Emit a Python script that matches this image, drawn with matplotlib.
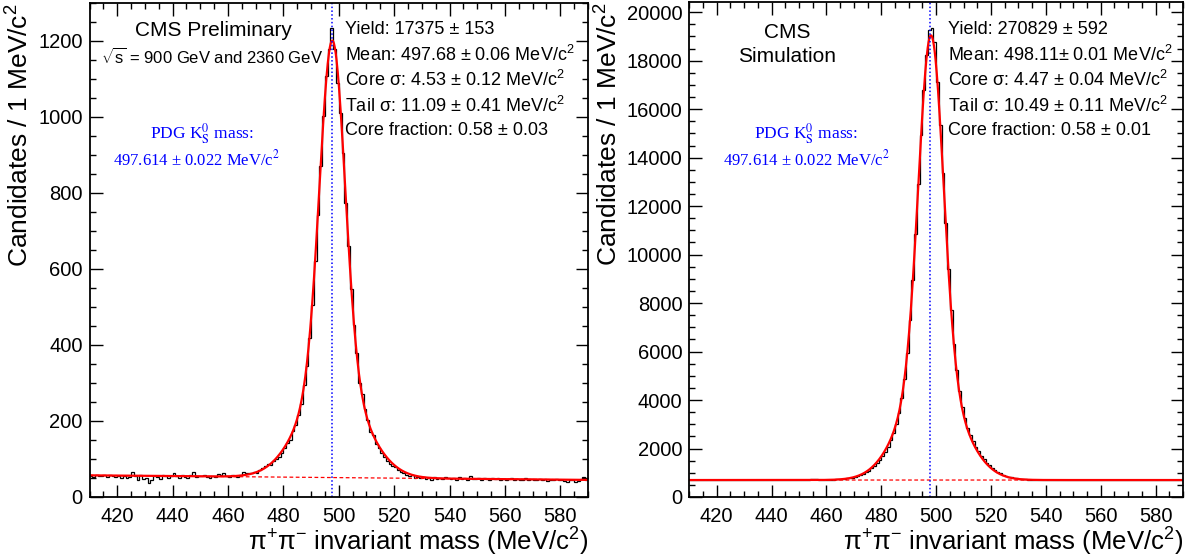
import numpy as np
import matplotlib
matplotlib.use("Agg")
import matplotlib.pyplot as plt
from matplotlib.ticker import MultipleLocator

plt.rcParams['font.family'] = ['Liberation Sans', 'DejaVu Sans']
plt.rcParams['mathtext.fontset'] = 'custom'
plt.rcParams['mathtext.rm'] = 'Liberation Sans'
plt.rcParams['mathtext.it'] = 'Liberation Sans:italic'
plt.rcParams['mathtext.bf'] = 'Liberation Sans:bold'
plt.rcParams['mathtext.default'] = 'rm'

# 1 MeV bins from 410 to 590
edges = np.arange(410, 591, 1)

data_counts = [
    55, 52, 57, 54, 56, 57, 53, 58, 55, 52,
    54, 50, 56, 49, 52, 66, 55, 44, 57, 47,
    50, 38, 45, 55, 52, 48, 58, 54, 50, 56,
    62, 55, 51, 57, 53, 50, 58, 65, 52, 55,
    54, 57, 52, 50, 56, 53, 60, 58, 62, 55,
    53, 58, 55, 52, 57, 65, 62, 63, 62, 66,
    64, 70, 76, 82, 86, 84, 95, 100, 104, 117,
    128, 143, 150, 173, 190, 215, 245, 295, 345, 418,
    505, 620, 742, 870, 1003, 1108, 1179, 1233, 1179, 1090,
    1010, 905, 775, 660, 548, 452, 378, 300, 272, 232,
    203, 172, 162, 140, 128, 116, 104, 96, 88, 82,
    78, 70, 66, 62, 57, 55, 58, 50, 53, 49,
    52, 47, 50, 46, 53, 48, 50, 47, 52, 49,
    47, 50, 46, 52, 48, 50, 46, 55, 48, 47,
    49, 46, 50, 47, 45, 49, 47, 50, 46, 48,
    45, 47, 50, 44, 48, 46, 45, 49, 44, 47,
    46, 44, 48, 45, 47, 43, 46, 44, 48, 45,
    46, 43, 40, 44, 46, 39, 42, 47, 52, 44,
]

mc_counts = [
    720, 705, 715, 700, 710, 695, 705, 700, 690, 710,
    700, 695, 705, 690, 700, 710, 695, 700, 690, 705,
    700, 690, 700, 695, 705, 690, 700, 695, 700, 710,
    705, 695, 700, 715, 720, 705, 710, 700, 715, 705,
    710, 705, 700, 710, 740, 760, 745, 720, 715, 710,
    710, 715, 720, 725, 730, 740, 755, 770, 785, 800,
    830, 860, 900, 960, 1020, 1090, 1180, 1280, 1390, 1530,
    1690, 1870, 2080, 2340, 2640, 3000, 3470, 4080, 4880, 5950,
    7300, 8950, 10850, 12900, 14950, 16800, 18220, 19280, 19330, 18750,
    17120, 15330, 13350, 11300, 9400, 7720, 6330, 5230, 4380, 3730,
    3240, 2860, 2560, 2300, 2080, 1880, 1710, 1560, 1420, 1300,
    1200, 1110, 1040, 980, 920, 880, 840, 810, 790, 770,
    750, 740, 730, 720, 715, 710, 705, 700, 700, 700,
    705, 695, 700, 690, 705, 700, 695, 710, 700, 690,
    700, 705, 695, 700, 690, 700, 705, 695, 690, 700,
    695, 700, 705, 690, 700, 695, 700, 690, 700, 705,
    690, 700, 695, 705, 700, 690, 700, 695, 700, 690,
    700, 695, 690, 700, 705, 695, 700, 690, 700, 705,
]

# fit results shown on the plots: yield, mean, core sigma, tail sigma, core fraction
data_fit = [17375, 497.68, 4.53, 11.09, 0.58]
mc_fit = [270829, 498.11, 4.47, 10.49, 0.58]
# linear background at 410 and 590 MeV
data_bkg = [57, 45]
mc_bkg = [700, 700]

data_text = ["Yield: 17375 ± 153",
             "Mean: 497.68 ± 0.06 MeV/c$^{2}$",
             "Core σ: 4.53 ± 0.12 MeV/c$^{2}$",
             "Tail σ: 11.09 ± 0.41 MeV/c$^{2}$",
             "Core fraction: 0.58 ± 0.03"]
mc_text = ["Yield: 270829 ± 592",
           "Mean: 498.11± 0.01 MeV/c$^{2}$",
           "Core σ: 4.47 ± 0.04 MeV/c$^{2}$",
           "Tail σ: 10.49 ± 0.11 MeV/c$^{2}$",
           "Core fraction: 0.58 ± 0.01"]

pdg_mass = 497.614


def fit_curve(x, p, bkg):
    n, mu, s1, s2, f = p
    g1 = np.exp(-0.5 * ((x - mu) / s1) ** 2) / (s1 * np.sqrt(2 * np.pi))
    g2 = np.exp(-0.5 * ((x - mu) / s2) ** 2) / (s2 * np.sqrt(2 * np.pi))
    bg = bkg[0] + (bkg[1] - bkg[0]) * (x - 410) / 180
    return n * (f * g1 + (1 - f) * g2) + bg, bg


W, H = 1195, 559
fig = plt.figure(figsize=(W / 100, H / 100), dpi=100)

def px(x0, y0, x1, y1):
    return [x0 / W, 1 - y1 / H, (x1 - x0) / W, (y1 - y0) / H]

ax1 = fig.add_axes(px(89.5, 3, 588, 497))
ax2 = fig.add_axes(px(689.3, 2, 1183, 497))

xs = np.linspace(410, 590, 1200)
panels = [(ax1, data_counts, data_fit, data_bkg, data_text, 1300, 200, 50, 345),
          (ax2, mc_counts, mc_fit, mc_bkg, mc_text, 20420, 2000, 500, 948)]

for ax, counts, p, bkg, lines, ymax, major, minor, tx in panels:
    ax.stairs(counts, edges, baseline=None, color='black', lw=0.9)
    yfit, ybg = fit_curve(xs, p, bkg)
    ax.plot(xs, ybg, color='red', lw=0.9, ls=(0, (3, 2)))
    ax.plot(xs, yfit, color='red', lw=1.6)
    ax.axvline(pdg_mass, color='blue', lw=1.1, ls=(0, (1, 1.5)))
    ax.set_xlim(410, 590)
    ax.set_ylim(0, ymax)
    ax.xaxis.set_major_locator(MultipleLocator(20))
    ax.xaxis.set_minor_locator(MultipleLocator(5))
    ax.yaxis.set_major_locator(MultipleLocator(major))
    ax.yaxis.set_minor_locator(MultipleLocator(minor))
    ax.tick_params(which='both', direction='in', top=True, right=True, width=1.0, labelsize=14.5)
    ax.tick_params(which='major', length=9)
    ax.tick_params(which='minor', length=4.5)
    ax.tick_params(axis='x', pad=7)
    ax.tick_params(axis='y', pad=5)
    for s in ax.spines.values():
        s.set_linewidth(1.3)
    ax.set_xlabel("π$^{+}$π$^{-}$ invariant mass (MeV/c$^{2}$)", fontsize=18.5, loc='right', labelpad=0)
    ax.set_ylabel("Candidates / 1 MeV/c$^{2}$", fontsize=19, loc='top', labelpad=3)
    for i, t in enumerate(lines):
        fig.text(tx / W, 1 - (30 + 25.2 * i) / H, t, fontsize=13, ha='left', va='center')

# labels and PDG reference text
fig.text(213 / W, 1 - 31 / H, "CMS Preliminary", fontsize=15, ha='center', va='center')
fig.text(212 / W, 1 - 57 / H, r"$\sqrt{s}$ = 900 GeV and 2360 GeV", fontsize=12, ha='center', va='center')
fig.text(787 / W, 1 - 33 / H, "CMS", fontsize=15, ha='center', va='center')
fig.text(787 / W, 1 - 57 / H, "Simulation", fontsize=15, ha='center', va='center')

for cx1, cx2 in ((202, 196), (806, 806)):
    fig.text(cx1 / W, 1 - 134 / H, "PDG K$^{0}_{S}$ mass:", fontsize=12.5, color='blue',
             family='Liberation Serif', math_fontfamily='stix', ha='center', va='center')
    fig.text(cx2 / W, 1 - 159 / H, "497.614 ± 0.022 MeV/c$^{2}$", fontsize=12, color='blue',
             family='Liberation Serif', math_fontfamily='stix', ha='center', va='center')

fig.savefig("out.png", dpi=100)
